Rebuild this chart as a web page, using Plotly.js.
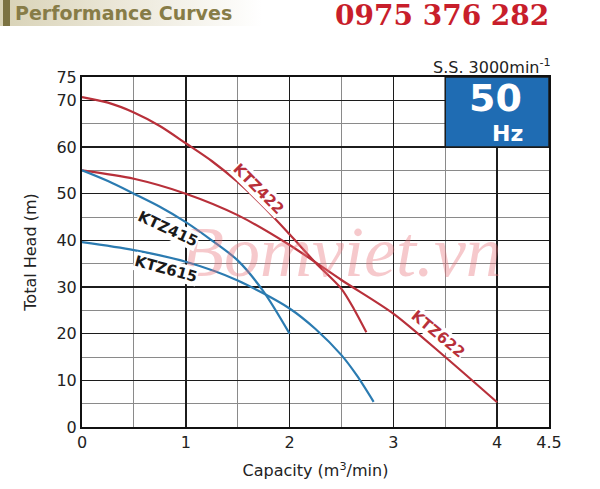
<!DOCTYPE html>
<html>
<head>
<meta charset="utf-8">
<script src="https://cdn.plot.ly/plotly-3.0.1.min.js"></script>
<style>
  html, body { margin: 0; padding: 0; background: #fff; }
  #wrap { position: relative; width: 600px; height: 489px; }
  #band { position: absolute; left: 0; top: 0; width: 262px; height: 26px;
          background: linear-gradient(to right, #d8d2b6 0%, #ebe7d8 45%, #ffffff 100%); }
  #bar { position: absolute; left: 3px; top: 0; width: 7px; height: 26px; background: #7b7242; }
  #chart { position: absolute; left: 0; top: 0; width: 600px; height: 489px; }
</style>
</head>
<body>
<div id="wrap">
  <div id="band"></div>
  <div id="bar"></div>
  <div id="chart"></div>
</div>
<script>
(function () {
  "use strict";

  // pump curves: capacity (m3/min) -> total head (m)
  var flowKTZ422 = [0, 0.25, 0.5, 0.75, 1, 1.25, 1.5, 1.75, 2, 2.25, 2.5, 2.62, 2.74];
  var headKTZ422 = [70.7, 69.5, 67.4, 64.5, 60.8, 57, 52.5, 47.2, 41.3, 35.2, 29.6, 25.3, 20.3];
  var flowKTZ622 = [0, 0.5, 1, 1.5, 2, 2.5, 3, 3.5, 4];
  var headKTZ622 = [55, 53.2, 50, 45.4, 39, 31.5, 24.3, 15, 5.3];
  var flowKTZ415 = [0, 0.25, 0.5, 0.75, 1, 1.25, 1.5, 1.75, 2];
  var headKTZ415 = [55, 52.7, 50, 47.2, 43.9, 40, 35.7, 29, 20];
  var flowKTZ615 = [0, 0.5, 1, 1.5, 2, 2.25, 2.5, 2.65, 2.81];
  var headKTZ615 = [39.6, 37.9, 35.4, 31.4, 25.4, 21, 15.4, 11, 5.4];

  var xTicks = [0, 1, 2, 3, 4, 4.5];
  var yTicks = [0, 10, 20, 30, 40, 50, 60, 70, 75];

  var RED = "#b8303a", BLUE = "#2b7bb1";
  var SANS = "DejaVu Sans, Verdana, sans-serif";

  // plot area in page pixels, used to place the text outside the axes
  var L = 82, R = 549, T = 77, B = 427;
  function px(x) { return (x - L) / (R - L); }
  function py(y) { return (B - y) / (B - T); }

  function curve(xs, ys, colour) {
    return {
      x: xs, y: ys, type: "scatter", mode: "lines", hoverinfo: "skip",
      line: { color: colour, width: 2.2, shape: "spline", smoothing: 0.8 }
    };
  }

  var traces = [
    curve(flowKTZ622, headKTZ622, RED),
    curve(flowKTZ422, headKTZ422, RED),
    curve(flowKTZ615, headKTZ615, BLUE),
    curve(flowKTZ415, headKTZ415, BLUE)
  ];

  function tag(text, x, y, angle, colour) {
    return {
      text: text, x: x, y: y, xref: "x", yref: "y", showarrow: false, textangle: angle,
      bgcolor: "#ffffff", borderpad: 0,
      font: { family: SANS, size: 15, color: colour, weight: "bold" }
    };
  }

  var annotations = [
    // watermark
    { text: "Bomviet.vn", x: 2.5, y: 37.6, xref: "x", yref: "y", showarrow: false,
      font: { family: "Liberation Serif, Times New Roman, serif", size: 72, style: "italic",
              color: "rgba(232,112,122,0.38)" } },
    tag("KTZ422", 1.70, 50.9, 45, RED),
    tag("KTZ622", 3.43, 19.9, 40, RED),
    tag("KTZ415", 0.83, 42.5, 25, "#1a1a1a"),
    tag("KTZ615", 0.81, 33.9, 15, "#1a1a1a"),
    { text: "50", x: 3.98, y: 70.6, xref: "x", yref: "y", showarrow: false,
      font: { family: SANS, size: 38, color: "#ffffff", weight: "bold" } },
    { text: "Hz", x: 4.1, y: 63, xref: "x", yref: "y", showarrow: false,
      font: { family: SANS, size: 22, color: "#ffffff", weight: "bold" } },
    { text: "S.S. 3000min<sup>-1</sup>", x: px(553), y: py(66), xref: "paper", yref: "paper",
      xanchor: "right", yanchor: "middle", showarrow: false,
      font: { family: SANS, size: 16, color: "#222" } },
    { text: "Performance Curves", x: px(13), y: py(13), xref: "paper", yref: "paper",
      xanchor: "left", yanchor: "middle", showarrow: false,
      font: { family: SANS, size: 19, color: "#877c47", weight: "bold" } },
    { text: "0975 376 282", x: px(333), y: py(15.5), xref: "paper", yref: "paper",
      xanchor: "left", yanchor: "middle", showarrow: false,
      font: { family: "DejaVu Serif, Liberation Serif, serif", size: 28, color: "#c81e2b", weight: "bold" } }
  ];

  var shapes = [
    { type: "rect", xref: "x", yref: "y", x0: 3.5, x1: 4.5, y0: 60, y1: 75, layer: "above",
      fillcolor: "#1f6cb3", line: { color: "#1a1a1a", width: 1.5 } }
  ];

  function axis(ticks, range, minorStep, title, standoff) {
    return {
      range: range, tickmode: "array", tickvals: ticks, ticktext: ticks.map(String),
      ticks: "", showgrid: true, gridcolor: "#1c1c1c", gridwidth: 1.5,
      minor: { dtick: minorStep, tick0: 0, showgrid: true, gridcolor: "#8a8a8a", gridwidth: 1 },
      showline: true, linecolor: "#111", linewidth: 2, mirror: true, zeroline: false,
      fixedrange: true, tickfont: { family: SANS, size: 16, color: "#222" },
      title: { text: title, standoff: standoff, font: { family: SANS, size: 16, color: "#222" } }
    };
  }

  var layout = {
    width: 600, height: 489,
    margin: { l: L, r: 600 - R, t: T, b: 489 - B, autoexpand: false },
    paper_bgcolor: "rgba(0,0,0,0)", plot_bgcolor: "#ffffff",
    showlegend: false,
    xaxis: axis(xTicks, [0, 4.5], 0.5, "Capacity (m<sup>3</sup>/min)", 14),
    yaxis: axis(yTicks, [0, 75], 5, "Total Head (m)", 16),
    shapes: shapes,
    annotations: annotations
  };

  Plotly.newPlot("chart", traces, layout, { displayModeBar: false, staticPlot: true });
})();
</script>
</body>
</html>
